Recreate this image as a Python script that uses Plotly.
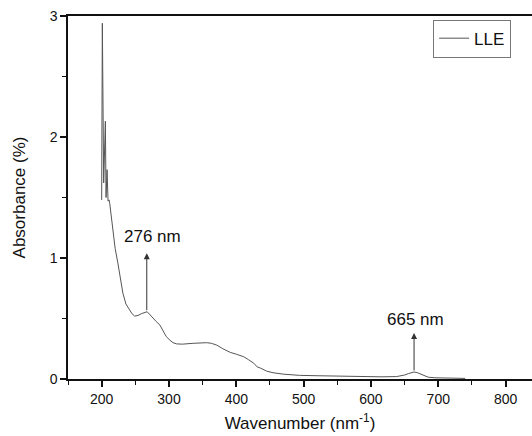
import plotly.graph_objects as go

# Spectrum
wavelength = [200, 201, 203, 205.5, 206.5, 208, 209.5, 211, 212, 216.5, 220, 224, 228, 231.5,
              236, 241.5, 245, 249, 254, 259, 263, 267.5, 272, 276.5, 281, 286.5, 291, 296,
              301.5, 306, 311.4, 320, 336, 356, 363, 371, 380, 391, 400, 411, 418, 426, 431,
              436, 445, 454.5, 470, 494, 520, 543, 570, 593, 615, 638, 645, 650, 656, 660,
              664, 669, 675, 680, 685, 695, 717, 740]
absorbance = [1.48, 2.94, 1.62, 2.13, 1.50, 1.73, 1.47, 1.48, 1.45, 1.23, 1.08, 0.96, 0.82, 0.71,
              0.62, 0.57, 0.54, 0.52, 0.525, 0.54, 0.55, 0.556, 0.53, 0.50, 0.475, 0.446, 0.40, 0.35,
              0.32, 0.30, 0.29, 0.288, 0.295, 0.30, 0.295, 0.28, 0.25, 0.22, 0.205, 0.184, 0.16, 0.13, 0.10,
              0.09, 0.065, 0.052, 0.04, 0.03, 0.027, 0.025, 0.02, 0.017, 0.018, 0.02, 0.025, 0.033, 0.045, 0.053,
              0.058, 0.052, 0.04, 0.025, 0.015, 0.01, 0.008, 0.005]

peak_labels = ["276 nm", "665 nm"]
peak_x = [267, 664]
peak_base = [0.556, 0.058]
peak_tip = [1.04, 0.38]
label_x = [275, 666]
label_y = [1.18, 0.49]

x_ticks = [200, 300, 400, 500, 600, 700, 800]
y_ticks = [0, 1, 2, 3]

FONT = "Liberation Sans, Arial, sans-serif"
LINE = "#555555"

fig = go.Figure()
fig.add_trace(go.Scatter(x=wavelength, y=absorbance, mode="lines", name="LLE",
                         line=dict(color=LINE, width=1)))

for i in range(len(peak_labels)):
    fig.add_annotation(x=peak_x[i], y=peak_tip[i], ax=peak_x[i], ay=peak_base[i],
                       xref="x", yref="y", axref="x", ayref="y", text="",
                       showarrow=True, arrowhead=2, arrowsize=1.2, arrowwidth=1,
                       arrowcolor="#333333", standoff=0, startstandoff=0)
    fig.add_annotation(x=label_x[i], y=label_y[i], xref="x", yref="y",
                       text=peak_labels[i], showarrow=False,
                       font=dict(family=FONT, size=17, color="#111111"))

fig.update_layout(
    width=532, height=436,
    margin=dict(l=68, r=0, t=16, b=57),
    paper_bgcolor="white", plot_bgcolor="white",
    font=dict(family=FONT, color="#111111"),
    showlegend=True,
    legend=dict(x=0.955, y=0.99, xanchor="right", yanchor="top",
                bordercolor="#777777", borderwidth=1, bgcolor="white",
                font=dict(family=FONT, size=17, color="#111111"),
                tracegroupgap=0, itemwidth=30),
)
fig.update_xaxes(
    range=[150, 839.2], tickvals=x_ticks, ticks="outside", ticklen=6, tickwidth=1.5,
    tickcolor="#111111", showline=True, linecolor="#111111", linewidth=1.5, mirror=True,
    showgrid=False, zeroline=False, tickfont=dict(family=FONT, size=14, color="#111111"),
    minor=dict(dtick=50, tick0=150, ticks="outside", ticklen=4, tickcolor="#111111", tickwidth=1),
    title=dict(text="Wavenumber (nm<sup>-1</sup>)", font=dict(family=FONT, size=17, color="#111111"),
               standoff=12),
)
fig.update_yaxes(
    range=[0, 3], tickvals=y_ticks, ticks="outside", ticklen=6, tickwidth=1.5,
    tickcolor="#111111", showline=True, linecolor="#111111", linewidth=1.5, mirror=False,
    showgrid=False, zeroline=False, tickfont=dict(family=FONT, size=14, color="#111111"),
    minor=dict(dtick=0.5, ticks="outside", ticklen=4, tickcolor="#111111", tickwidth=1),
    title=dict(text="Absorbance (%)", font=dict(family=FONT, size=17, color="#111111"),
               standoff=20),
)

fig.write_html("out.html", config={"displayModeBar": False},
               post_script="document.body.style.margin='0';document.body.style.overflow='hidden';")
